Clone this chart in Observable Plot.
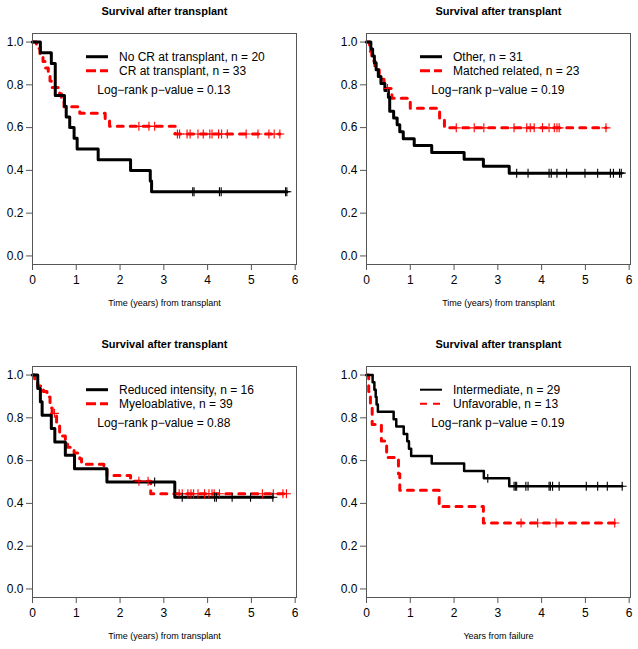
<!DOCTYPE html>
<html>
<head>
<meta charset="utf-8">
<script src="https://cdn.jsdelivr.net/npm/d3@7"></script>
<script src="https://cdn.jsdelivr.net/npm/@observablehq/plot@0.6"></script>
<style>
  html, body { margin: 0; padding: 0; background: #fff; overflow: hidden; }
  #wrap { position: relative; width: 638px; height: 649px; background: #fff; }
  #wrap svg { position: absolute; }
</style>
</head>
<body>
<div id="wrap"></div>
<script>
// ---------- data ----------
const titles = ["Survival after transplant", "Survival after transplant", "Survival after transplant", "Survival after transplant"];
const xLabels = ["Time (years) from transplant", "Time (years) from transplant", "Time (years) from transplant", "Years from failure"];
const xTicks = [0, 1, 2, 3, 4, 5, 6];
const yTicks = [0, 0.2, 0.4, 0.6, 0.8, 1.0];
const pValues = ["Log−rank p−value = 0.13", "Log−rank p−value = 0.19", "Log−rank p−value = 0.88", "Log−rank p−value = 0.19"];

// Panel 1
const p1Labels = ["No CR at transplant, n = 20", "CR at transplant, n = 33"];
const p1aTime = [0, 0.18, 0.43, 0.52, 0.73, 0.77, 0.85, 0.95, 1.02, 1.50, 2.24, 2.69, 2.72];
const p1aSurv = [1, 0.95, 0.90, 0.75, 0.70, 0.65, 0.60, 0.55, 0.50, 0.45, 0.40, 0.35, 0.30];
const p1aCens = [3.66, 3.69, 4.27, 4.31, 5.78, 5.81];
const p1bTime = [0, 0.09, 0.17, 0.24, 0.30, 0.36, 0.40, 0.43, 0.62, 0.66, 0.72, 1.08, 1.66, 1.76, 3.26];
const p1bSurv = [1, 0.970, 0.939, 0.909, 0.879, 0.848, 0.818, 0.788, 0.758, 0.727, 0.697, 0.667, 0.636, 0.606, 0.570];
const p1bCens = [2.43, 2.66, 2.79, 3.31, 3.36, 3.53, 3.60, 3.78, 3.90, 4.05, 4.10, 4.25, 4.32, 4.45, 4.88, 5.15, 5.40, 5.52, 5.65];

// Panel 2
const p2Labels = ["Other, n = 31", "Matched related, n = 23"];
const p2aTime = [0, 0.10, 0.14, 0.18, 0.22, 0.27, 0.33, 0.42, 0.50, 0.53, 0.62, 0.70, 0.76, 0.84, 1.09, 1.49, 2.23, 2.67, 3.26];
const p2aSurv = [1, 0.968, 0.935, 0.903, 0.871, 0.839, 0.806, 0.774, 0.742, 0.677, 0.645, 0.613, 0.581, 0.548, 0.516, 0.484, 0.452, 0.419, 0.387];
const p2aCens = [3.43, 3.69, 4.17, 4.22, 4.35, 4.57, 4.99, 5.28, 5.57, 5.64, 5.78, 5.82];
const p2bTime = [0, 0.07, 0.12, 0.19, 0.29, 0.40, 0.58, 1.00, 1.67, 1.78];
const p2bSurv = [1, 0.957, 0.913, 0.870, 0.826, 0.783, 0.737, 0.691, 0.645, 0.599];
const p2bCens = [0.48, 2.05, 2.46, 2.68, 3.37, 3.66, 3.74, 3.83, 4.02, 4.17, 4.29, 4.35, 4.40, 5.47];

// Panel 3
const p3Labels = ["Reduced intensity, n = 16", "Myeloablative, n = 39"];
const p3aTime = [0, 0.12, 0.18, 0.22, 0.43, 0.51, 0.75, 0.96, 1.70, 3.25];
const p3aSurv = [1, 0.9375, 0.875, 0.8125, 0.75, 0.6875, 0.625, 0.5625, 0.50, 0.4286];
const p3aCens = [2.79, 3.42, 4.16, 4.20, 4.56, 4.98, 5.49];
const p3bTime = [0, 0.05, 0.12, 0.25, 0.33, 0.40, 0.42, 0.45, 0.55, 0.62, 0.75, 0.80, 0.95, 1.08, 1.12, 1.63, 1.70, 2.24, 2.70];
const p3bSurv = [1, 0.974, 0.949, 0.923, 0.897, 0.872, 0.846, 0.821, 0.768, 0.715, 0.689, 0.662, 0.636, 0.609, 0.583, 0.556, 0.530, 0.504, 0.445];
const p3bCens = [0.50, 2.43, 2.64, 3.35, 3.42, 3.55, 3.62, 3.68, 3.78, 3.93, 4.03, 4.10, 4.15, 4.27, 5.25, 5.50, 5.72, 5.80];

// Panel 4
const p4Labels = ["Intermediate, n = 29", "Unfavorable, n = 13"];
const p4aTime = [0, 0.14, 0.18, 0.21, 0.23, 0.26, 0.62, 0.68, 0.85, 0.93, 0.97, 1.02, 1.49, 2.23, 2.68, 3.26];
const p4aSurv = [1, 0.966, 0.931, 0.897, 0.862, 0.828, 0.793, 0.759, 0.724, 0.690, 0.655, 0.621, 0.586, 0.552, 0.517, 0.480];
const p4aCens = [2.77, 3.37, 3.40, 3.43, 3.64, 3.69, 4.17, 4.20, 4.25, 4.40, 5.02, 5.28, 5.50, 5.84];
const p4bTime = [0, 0.05, 0.09, 0.13, 0.34, 0.46, 0.73, 0.76, 1.66, 2.67];
const p4bSurv = [1, 0.923, 0.846, 0.769, 0.692, 0.615, 0.538, 0.462, 0.385, 0.308];
const p4bCens = [3.53, 3.91, 4.33, 5.67];

// ---------- drawing ----------
const FONT = "'Liberation Sans', Arial, Helvetica, sans-serif";
const RED = "#ff0000";
const DASH = "6,7";

function stepPoints(times, surv, cens) {
  const pts = times.map((t, i) => ({t, s: surv[i]}));
  const end = Math.max(times[times.length - 1], ...cens);
  pts.push({t: end, s: surv[surv.length - 1]});
  return pts;
}
function censorPoints(times, surv, cens) {
  return cens.map(c => {
    let s = 1;
    for (let i = 0; i < times.length; i++) if (times[i] <= c) s = surv[i];
    return {t: c, s};
  });
}

const W = 319, H = 316;
const M = {left: 32, right: 23, top: 33, bottom: 52};

function panel(cfg) {
  const {title, xlab, labels, pval, a, b, blackW, legendBlackW, legendRedW, legendDash} = cfg;
  const aPts = stepPoints(a.time, a.surv, a.cens);
  const bPts = stepPoints(b.time, b.surv, b.cens);
  const aC = censorPoints(a.time, a.surv, a.cens);
  const bC = censorPoints(b.time, b.surv, b.cens);
  const svg = Plot.plot({
    width: W, height: H,
    marginLeft: M.left, marginRight: M.right, marginTop: M.top, marginBottom: M.bottom,
    style: {fontFamily: FONT, fontSize: "12px", background: "transparent", overflow: "visible"},
    x: {domain: [0, 6.03], label: null},
    y: {domain: [-0.04, 1.04], label: null},
    marks: [
      Plot.axisY({ticks: yTicks, tickFormat: d => d.toFixed(1), tickSize: 6, tickPadding: 3, stroke: "#555", fill: "#000", fontSize: 12, label: null}),
      Plot.axisX({ticks: xTicks, tickFormat: d => String(d), tickSize: 6, tickPadding: 5, stroke: "#555", fill: "#000", fontSize: 12, label: null}),
      Plot.line(bPts, {x: "t", y: "s", curve: "step-after", stroke: RED, strokeWidth: 3, strokeDasharray: DASH, strokeLinecap: "round", strokeLinejoin: "round"}),
      Plot.line(aPts, {x: "t", y: "s", curve: "step-after", stroke: "#000", strokeWidth: blackW, strokeLinecap: "round", strokeLinejoin: "round"}),
      Plot.dot(bC, {x: "t", y: "s", symbol: "plus", r: 3, stroke: RED, strokeWidth: 1.1}),
      Plot.dot(aC, {x: "t", y: "s", symbol: "plus", r: 3, stroke: "#000", strokeWidth: 1.1}),
      Plot.frame({stroke: "#555", strokeWidth: 1}),
      Plot.text([title], {frameAnchor: "top", lineAnchor: "middle", dy: -22, fontWeight: "bold", fontSize: 11, fill: "#000"}),
      Plot.text([xlab], {frameAnchor: "bottom", lineAnchor: "middle", dy: 38.7, fontSize: 9, fill: "#000"})
    ]
  });
  // legend, inside the frame (top-left anchored offsets)
  const g = d3.select(svg).append("g").attr("transform", `translate(${M.left},${M.top})`).attr("text-anchor", "start");
  g.append("line").attr("x1", 54).attr("x2", 76).attr("y1", 23.7).attr("y2", 23.7)
    .attr("stroke", "#000").attr("stroke-width", legendBlackW);
  g.append("line").attr("x1", 54).attr("x2", 76).attr("y1", 37.7).attr("y2", 37.7)
    .attr("stroke", RED).attr("stroke-width", legendRedW).attr("stroke-dasharray", legendDash);
  labels.forEach((l, i) => {
    g.append("text").attr("x", 87).attr("y", 23.7 + 14 * i).attr("dy", "0.35em").attr("text-anchor", "start")
      .attr("font-size", 12).attr("font-family", FONT).attr("fill", "#000").text(l);
  });
  g.append("text").attr("x", 65.3).attr("y", 56.3).attr("dy", "0.35em").attr("text-anchor", "start")
    .attr("font-size", 12).attr("font-family", FONT).attr("fill", "#000").text(pval);
  return svg;
}

const wrap = document.getElementById("wrap");
const configs = [
  {title: titles[0], xlab: xLabels[0], labels: p1Labels, pval: pValues[0],
   a: {time: p1aTime, surv: p1aSurv, cens: p1aCens}, b: {time: p1bTime, surv: p1bSurv, cens: p1bCens},
   blackW: 3, legendBlackW: 3, legendRedW: 3, legendDash: "10,4", left: 0, top: 0},
  {title: titles[1], xlab: xLabels[1], labels: p2Labels, pval: pValues[1],
   a: {time: p2aTime, surv: p2aSurv, cens: p2aCens}, b: {time: p2bTime, surv: p2bSurv, cens: p2bCens},
   blackW: 3, legendBlackW: 3, legendRedW: 3, legendDash: "10,4", left: 334, top: 0},
  {title: titles[2], xlab: xLabels[2], labels: p3Labels, pval: pValues[2],
   a: {time: p3aTime, surv: p3aSurv, cens: p3aCens}, b: {time: p3bTime, surv: p3bSurv, cens: p3bCens},
   blackW: 3, legendBlackW: 3, legendRedW: 3, legendDash: "10,4", left: 0, top: 333},
  {title: titles[3], xlab: xLabels[3], labels: p4Labels, pval: pValues[3],
   a: {time: p4aTime, surv: p4aSurv, cens: p4aCens}, b: {time: p4bTime, surv: p4bSurv, cens: p4bCens},
   blackW: 2.5, legendBlackW: 2, legendRedW: 2, legendDash: "7,6", left: 334, top: 333}
];
configs.forEach(c => {
  const svg = panel(c);
  svg.style.left = c.left + "px";
  svg.style.top = c.top + "px";
  wrap.appendChild(svg);
});
</script>
</body>
</html>
